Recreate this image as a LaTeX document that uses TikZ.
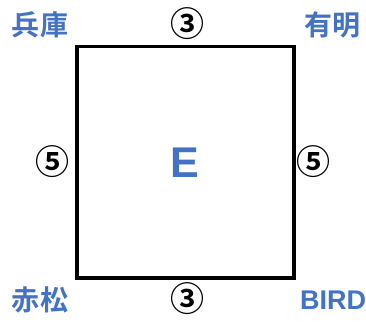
\documentclass[tikz,border=0pt]{standalone}
\usepackage{fontspec}
\setmainfont{Liberation Sans}
\newfontfamily\cjk{Noto Sans CJK JP}[BoldFont={Noto Sans CJK JP Bold}]
\definecolor{lblue}{HTML}{4472C4}
\begin{document}
\begin{tikzpicture}[x=1pt,y=-1pt,
  corner/.style={font=\cjk\bfseries\fontsize{28}{28}\selectfont, text=lblue, inner sep=0pt},
  num/.style={font=\cjk\bfseries\fontsize{34}{34}\selectfont, inner sep=0pt},
  box/.style={draw=black, line width=3.5pt}]
\useasboundingbox (0,0) rectangle (366,321);
\node[box, minimum width=217pt, minimum height=231pt, inner sep=0pt, anchor=north west,
  font=\bfseries\fontsize{43}{43}\selectfont, text=lblue] (sq) at (75,45) {E};
\node[corner] (hyogo) at (40,25) {兵庫};
\node[corner] (ariake) at (332,25) {有明};
\node[corner] (akamatsu) at (40,300) {赤松};
\node[corner, font=\bfseries\fontsize{27}{27}\selectfont] (bird) at (333,300) {BIRD};
\node[num] (ntop) at (187,24) {③};
\node[num] (nbot) at (187,299) {③};
\node[num] (nleft) at (52,162) {⑤};
\node[num] (nright) at (313,162) {⑤};
\end{tikzpicture}
\end{document}
